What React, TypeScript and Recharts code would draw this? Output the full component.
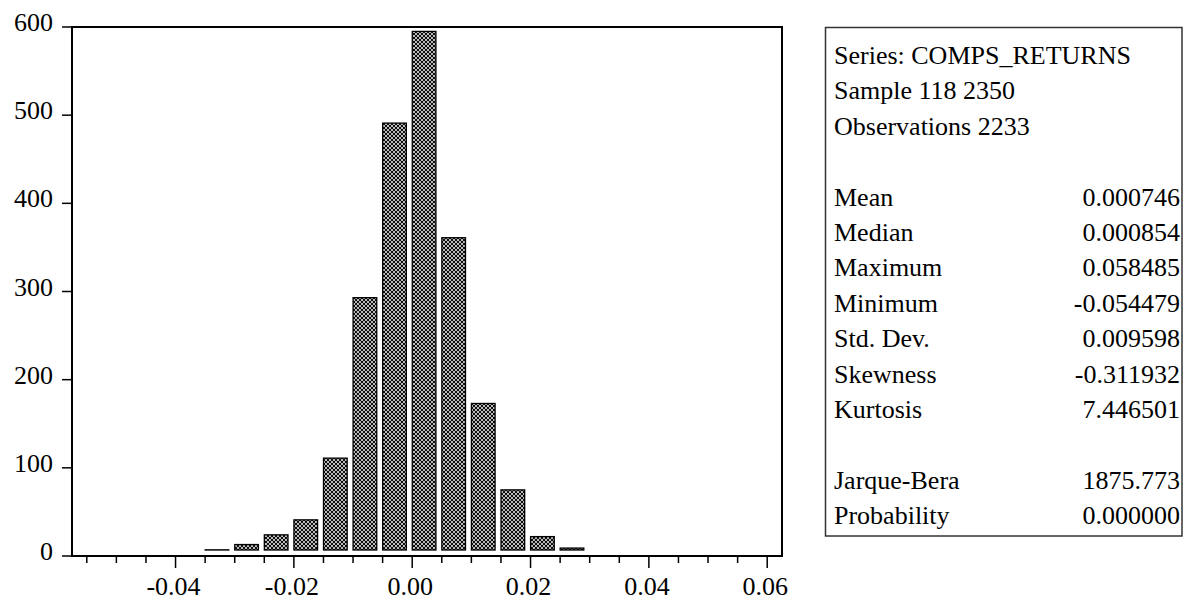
import React from 'react';
import { ComposedChart, Bar, XAxis, YAxis, ReferenceArea } from 'recharts';

// ---- data ----
const binStarts = [-0.055, -0.05, -0.045, -0.04, -0.035, -0.03, -0.025, -0.02, -0.015, -0.01, -0.005, 0, 0.005, 0.01, 0.015, 0.02, 0.025, 0.03, 0.035, 0.04, 0.045, 0.05, 0.055];
const counts = [1, 0, 2, 3, 7, 13, 24, 41, 111, 293, 491, 595, 361, 173, 75, 22, 9, 5, 3, 2, 1, 0, 1];
const binWidth = 0.005;
const xTicks = [-0.055, -0.05, -0.045, -0.04, -0.035, -0.03, -0.025, -0.02, -0.015, -0.01, -0.005, 0, 0.005, 0.01, 0.015, 0.02, 0.025, 0.03, 0.035, 0.04, 0.045, 0.05, 0.055, 0.06];
const majorXTicks = [-0.04, -0.02, 0, 0.02, 0.04, 0.06];
const yTicks = [0, 100, 200, 300, 400, 500, 600];
const xDomain: [number, number] = [-0.0575, 0.0625];
const yDomain: [number, number] = [0, 600];

const headerLines = ['Series: COMPS_RETURNS', 'Sample 118 2350', 'Observations 2233'];
const statLabels = ['Mean', 'Median', 'Maximum', 'Minimum', 'Std. Dev.', 'Skewness', 'Kurtosis', '', 'Jarque-Bera', 'Probability'];
const statValues = ['0.000746', '0.000854', '0.058485', '-0.054479', '0.009598', '-0.311932', '7.446501', '', '1875.773', '0.000000'];

// ---- layout ----
const W = 1189;
const H = 601;
const LEFT = 72;
const RIGHT_MARGIN = 407;
const TOP = 27;
const XAXIS_H = 45;
const PLOT_W = W - LEFT - RIGHT_MARGIN;
const BIN_PX = (PLOT_W * binWidth) / (xDomain[1] - xDomain[0]);
const BAR_FRAC = 0.8;
const FONT = '"Liberation Serif", "Times New Roman", Times, serif';

const data = binStarts.map((b, i) => ({ x: b + binWidth / 2, count: counts[i] }));

const isMajor = (v: number) => majorXTicks.some((m) => Math.abs(m - v) < 1e-9);

const XTick = (props: any) => {
  const { x, y, payload } = props;
  const v = payload.value as number;
  const major = isMajor(v);
  return (
    <g>
      <line x1={x} y1={y} x2={x} y2={y + (major ? 12 : 7)} stroke="#000" strokeWidth={1.5} />
      {major && (
        <text x={x - 2} y={y + 39} textAnchor="middle" fontSize={26} fontFamily={FONT} fill="#000">
          {v.toFixed(2)}
        </text>
      )}
    </g>
  );
};

const YTick = (props: any) => {
  const { x, y, payload } = props;
  return (
    <g>
      <line x1={x - 10} y1={y} x2={x} y2={y} stroke="#000" strokeWidth={1.5} />
      <text x={x - 19} y={y + 4} textAnchor="end" fontSize={26} fontFamily={FONT} fill="#000">
        {payload.value}
      </text>
    </g>
  );
};

const HistBar = (props: any) => {
  const { x, y, width, height } = props;
  if (width == null || height == null) return null;
  const binPx = width / BAR_FRAC;
  const left = x + width / 2 - binPx / 2;
  const bottom = y + height - 6;
  const h = bottom - y;
  if (h < -0.5) return null;
  return (
    <rect x={left} y={y} width={width} height={Math.max(0, h)} fill="url(#xhatch)" stroke="#000" strokeWidth={1.3} />
  );
};

export default function App() {
  return (
    <div style={{ position: 'absolute', left: 0, top: 0, width: W, height: H, background: '#fff' }}>
      <ComposedChart
        width={W}
        height={H}
        data={data}
        margin={{ top: TOP, right: RIGHT_MARGIN, left: 0, bottom: 0 }}
      >
        <defs>
          <pattern id="xhatch" patternUnits="userSpaceOnUse" width={4} height={4}>
            <rect x={0} y={0} width={4} height={4} fill="#fff" />
            <path d="M0,0 L4,4 M4,0 L0,4 M-1,3 L1,5 M3,-1 L5,1 M-1,1 L1,-1 M3,5 L5,3" stroke="#000" strokeWidth={1.05} />
          </pattern>
        </defs>
        <XAxis
          dataKey="x"
          type="number"
          domain={xDomain}
          allowDataOverflow
          ticks={xTicks}
          interval={0}
          tickSize={0}
          tickMargin={0}
          tickLine={false}
          axisLine={{ stroke: '#000', strokeWidth: 2 }}
          tick={<XTick />}
          height={XAXIS_H}
        />
        <YAxis
          type="number"
          domain={yDomain}
          ticks={yTicks}
          interval={0}
          tickSize={0}
          tickMargin={0}
          tickLine={false}
          axisLine={{ stroke: '#000', strokeWidth: 2 }}
          tick={<YTick />}
          width={LEFT}
        />
        <ReferenceArea
          x1={xDomain[0]}
          x2={xDomain[1]}
          y1={yDomain[0]}
          y2={yDomain[1]}
          fill="none"
          fillOpacity={0}
          stroke="#000"
          strokeWidth={2}
          ifOverflow="visible"
        />
        <Bar dataKey="count" barSize={BIN_PX * BAR_FRAC} shape={<HistBar />} isAnimationActive={false} />
      </ComposedChart>
      <svg
        width={W}
        height={H}
        style={{ position: 'absolute', left: 0, top: 0, pointerEvents: 'none' }}
      >
        <rect x={825.5} y={27.5} width={356.5} height={508.5} fill="none" stroke="#333" strokeWidth={1.5} />
        {headerLines.map((t, i) => (
          <text key={'h' + i} x={834} y={64 + 35.4 * i} fontSize={26} fontFamily={FONT} fill="#000">
            {t}
          </text>
        ))}
        {statLabels.map((t, i) => (
          <text key={'l' + i} x={834} y={64 + 35.4 * (i + 4)} fontSize={26} fontFamily={FONT} fill="#000">
            {t}
          </text>
        ))}
        {statValues.map((t, i) => (
          <text key={'v' + i} x={1180} y={64 + 35.4 * (i + 4)} textAnchor="end" fontSize={26} fontFamily={FONT} fill="#000">
            {t}
          </text>
        ))}
      </svg>
    </div>
  );
}
